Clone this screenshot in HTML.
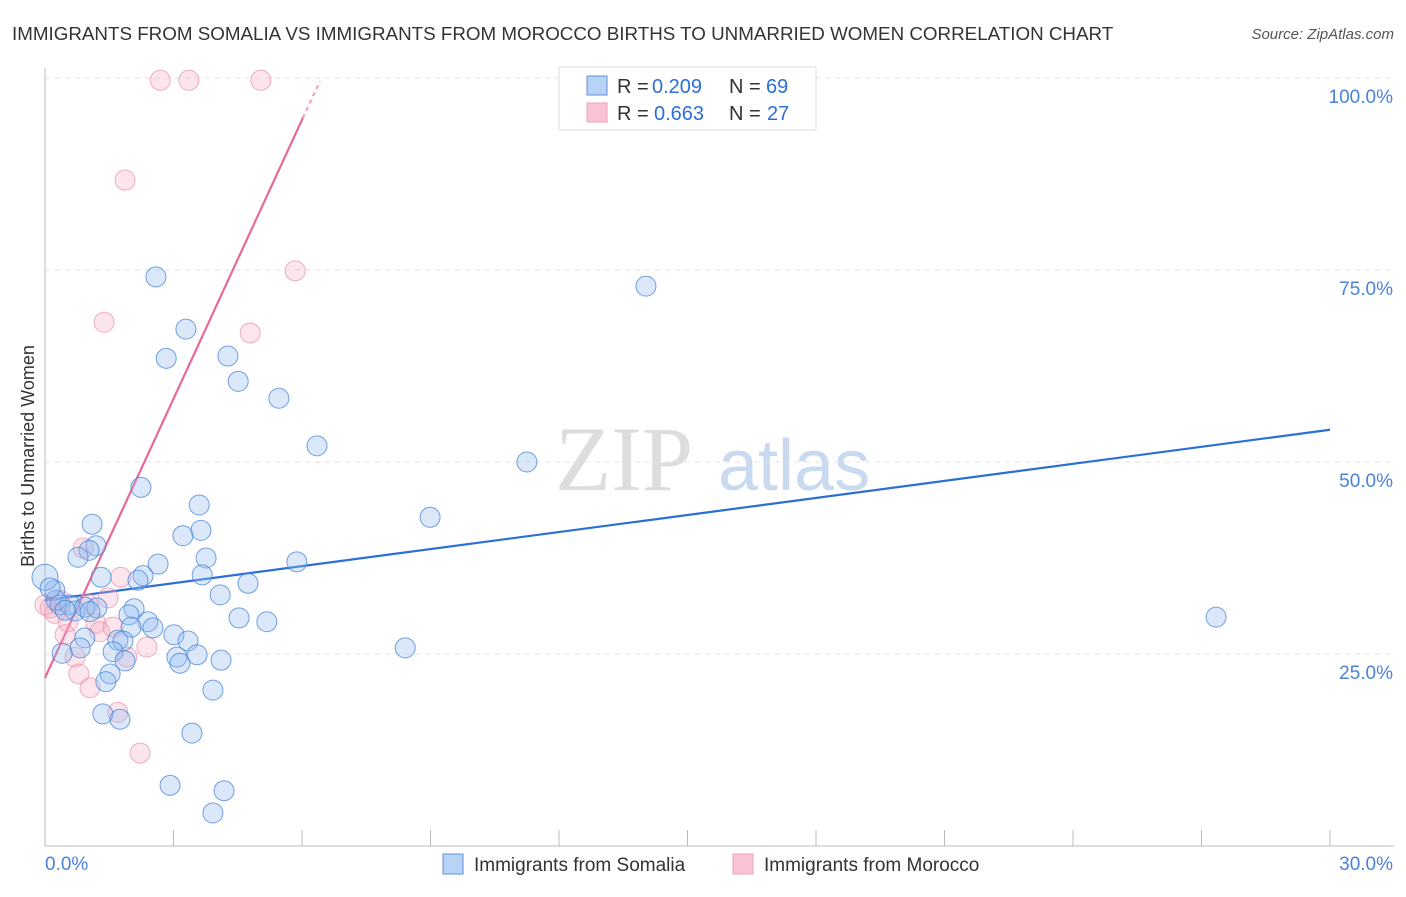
<!DOCTYPE html>
<html><head><meta charset="utf-8"><style>
body{margin:0;background:#fff;font-family:"Liberation Sans",sans-serif}
</style></head><body>
<svg id="chart" width="1406" height="892" xmlns="http://www.w3.org/2000/svg">
<text x="12" y="40" font-size="18.8" fill="#333">IMMIGRANTS FROM SOMALIA VS IMMIGRANTS FROM MOROCCO BIRTHS TO UNMARRIED WOMEN CORRELATION CHART</text>
<text x="1394" y="39" font-size="15" fill="#555" font-style="italic" text-anchor="end">Source: ZipAtlas.com</text>
<text x="0" y="0" transform="translate(34,456) rotate(-90)" font-size="18" fill="#333" text-anchor="middle">Births to Unmarried Women</text>
<g><text x="555" y="490" font-size="92" fill="#ddd" font-family="Liberation Serif">ZIP</text><text x="718" y="490" font-size="72" fill="#c9d9f0">atlas</text></g>
<g id="grid"></g><g id="axes"></g><g id="trends"></g><g id="points"></g>
<g>
<rect x="559" y="67" width="257" height="63" fill="#fff" stroke="#ddd"/>
<rect x="587" y="76" width="20" height="19" fill="#b8d3f5" stroke="#5b8fdb"/>
<rect x="587" y="103" width="20" height="19" fill="#f9c5d4" stroke="#f0a0b5"/>
<text x="617" y="93" font-size="20" fill="#333">R =</text><text x="652" y="93" font-size="20" fill="#2b6fd6">0.209</text>
<text x="729" y="93" font-size="20" fill="#333">N =</text><text x="766" y="93" font-size="20" fill="#2b6fd6">69</text>
<text x="617" y="120" font-size="20" fill="#333">R =</text><text x="654" y="120" font-size="20" fill="#2b6fd6">0.663</text>
<text x="729" y="120" font-size="20" fill="#333">N =</text><text x="767" y="120" font-size="20" fill="#2b6fd6">27</text>
</g>
<g>
<rect x="443" y="854" width="20" height="20" fill="#b8d3f5" stroke="#5b8fdb"/>
<text x="474" y="871" font-size="19" fill="#333">Immigrants from Somalia</text>
<rect x="733" y="854" width="20" height="20" fill="#f9c5d4" stroke="#f0a0b5"/>
<text x="764" y="871" font-size="19" fill="#333">Immigrants from Morocco</text>
</g>
</svg>
<script>
const xTicks=[0,3,6,9,12,15,18,21,24,27,30];
const yTicks=[25,50,75,100];
const yTickLabels=["25.0%","50.0%","75.0%","100.0%"];
const xEndLabels=["0.0%","30.0%"];
const somaliaX=[2.59,3.29,2.83,4.27,4.51,5.46,6.35,2.24,3.60,1.10,3.64,3.22,1.19,1.03,0.77,3.76,2.64,5.88,2.29,1.31,2.17,3.67,4.74,4.09,0.23,0.0,0.35,0.58,0.70,0.93,1.21,2.08,1.96,4.53,5.18,2.40,2.52,2.01,3.01,1.70,3.34,1.82,0.93,0.82,1.59,0.40,3.55,3.08,3.15,1.87,4.11,1.52,1.42,3.92,1.35,1.75,3.43,2.92,4.18,3.92,14.03,11.25,8.99,8.41,27.34,0.26,0.12,0.47,1.05];
const somaliaY=[74.1,67.3,63.5,63.8,60.5,58.3,52.1,46.7,44.4,41.9,41.1,40.4,39.1,38.5,37.6,37.5,36.7,37.0,35.2,35.0,34.6,35.3,34.2,32.7,33.3,35.0,31.4,31.4,30.6,31.1,31.0,30.9,30.1,29.7,29.2,29.2,28.4,28.5,27.5,26.8,26.7,26.7,27.1,25.8,25.3,25.1,24.9,24.6,23.8,24.1,24.2,22.4,21.4,20.3,17.2,16.5,14.7,7.9,7.2,4.3,72.9,50.0,42.8,25.8,29.8,32.0,33.6,30.7,30.5];
const moroccoX=[2.69,3.36,5.04,1.87,5.84,1.38,4.79,0.89,1.77,1.47,1.00,0.12,0.23,0.35,0.54,1.19,1.28,1.59,0.47,0.70,0.79,1.05,1.91,2.38,1.70,2.22,0.0];
const moroccoY=[99.7,99.7,99.7,86.7,74.9,68.2,66.8,38.8,35.0,32.3,31.5,31.0,30.3,32.0,29.2,29.0,27.9,28.5,27.5,24.6,22.4,20.6,24.6,25.9,17.4,12.1,31.4];
const somaliaTrend=[[0,32.0],[30,54.2]];
const moroccoTrend=[[0,21.9],[6.02,94.8]];
const moroccoTrendDash=[[6.02,94.8],[6.42,99.6]];

const NS="http://www.w3.org/2000/svg";
const X0=45,X1=1330,Y0=846,Y100=78;
const sx=v=>X0+(v/30)*(X1-X0);
const sy=v=>Y0-(v/100)*(Y0-Y100);
function mk(tag,attrs,parent){const e=document.createElementNS(NS,tag);for(const k in attrs)e.setAttribute(k,attrs[k]);document.getElementById(parent).appendChild(e);return e;}
yTicks.forEach((t,i)=>{
 const g=mk('line',{x1:X0,x2:1394,y1:sy(t),y2:sy(t),stroke:'#e2e2e2','stroke-dasharray':'5,5'},'grid');
 
 
 const l=mk('text',{x:1393,y:sy(t)+25,'font-size':19,fill:'#4a82dc','text-anchor':'end'},'grid');
 l.textContent=yTickLabels[i];
 
 
});
const ax=mk('line',{x1:X0,x2:X0,y1:68,y2:Y0,stroke:'#bbb'},'axes');


const bx=mk('line',{x1:X0,x2:1394,y1:Y0,y2:Y0,stroke:'#bbb'},'axes');


xTicks.forEach(t=>{
 const k=mk('line',{x1:sx(t),x2:sx(t),y1:Y0-16,y2:Y0,stroke:'#bbb'},'axes');
 
 
});
[[0,'start'],[30,'end']].forEach((p,i)=>{
 const l=mk('text',{x:sx(p[0])+(i?63:0),y:870,'font-size':19,fill:'#4a82dc','text-anchor':p[1]},'axes');
 l.textContent=xEndLabels[i];
 
 
});
function pts(xs,ys,fill,stroke,name){xs.forEach((x,i)=>{
 const c=mk('circle',{cx:sx(x),cy:sy(ys[i]),r:(x===0&&name==='somalia-point')?13:10,fill:fill,stroke:stroke,'stroke-width':1},'points');
 
 
});}
pts(moroccoX,moroccoY,'rgba(245,170,192,0.3)','rgba(235,140,170,0.7)','morocco-point');
pts(somaliaX,somaliaY,'rgba(150,190,240,0.35)','rgba(70,130,215,0.75)','somalia-point');
function line(p,color,name,dash){const l=mk('line',{x1:sx(p[0][0]),y1:sy(p[0][1]),x2:sx(p[1][0]),y2:sy(p[1][1]),stroke:color,'stroke-width':2.2},'trends');
 if(dash)l.setAttribute('stroke-dasharray','4,4');
 
 }
line(somaliaTrend,'#2b6fd6','somalia-trendline');
line(moroccoTrend,'#e8689a','morocco-trendline');
line(moroccoTrendDash,'#f0a0b8','morocco-trendline-extension',true);
</script>
</body></html>
